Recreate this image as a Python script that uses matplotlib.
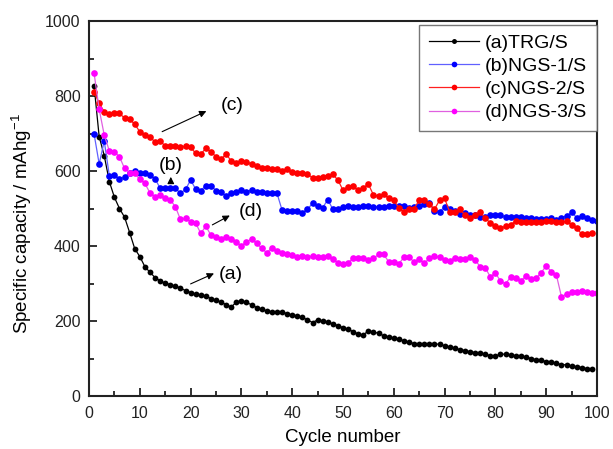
import matplotlib
matplotlib.use("Agg")
import matplotlib.pyplot as plt
from matplotlib.ticker import MultipleLocator

plt.rcParams['font.family'] = ['Liberation Sans', 'DejaVu Sans']
plt.rcParams['mathtext.fontset'] = 'custom'
plt.rcParams['mathtext.rm'] = 'Liberation Sans'
plt.rcParams['mathtext.it'] = 'Liberation Sans:italic'
plt.rcParams['mathtext.bf'] = 'Liberation Sans:bold'

labels = ["(a)TRG/S", "(b)NGS-1/S", "(c)NGS-2/S", "(d)NGS-3/S"]

trg = [827, 692, 641, 572, 530, 500, 477, 436, 393, 372, 345, 330, 316, 307, 301, 297, 293, 288, 281, 276,
       272, 269, 267, 260, 256, 250, 244, 237, 251, 254, 250, 243, 236, 231, 227, 225, 225, 223, 220, 216, 214,
       210, 203, 196, 203, 200, 198, 192, 188, 182, 178, 172, 165, 163, 174, 171, 167, 161, 157, 154, 152,
       147, 143, 140, 138, 139, 140, 139, 138, 134, 130, 127, 124, 121, 118, 116, 114, 111, 108, 107,
       111, 112, 109, 108, 107, 104, 100, 97, 95, 92, 90, 87, 84, 83, 80, 78, 76, 73, 71]

ngs1 = [699, 619, 680, 588, 589, 580, 583, 596, 600, 596, 594, 589, 580, 554, 554, 554, 554, 541, 551, 576, 552,
        548, 561, 561, 548, 545, 533, 541, 543, 549, 545, 549, 545, 545, 542, 542, 541, 496, 494, 494, 494,
        489, 498, 514, 507, 502, 524, 498, 500, 505, 506, 505, 505, 506, 508, 505, 505, 505, 506, 506, 507,
        506, 501, 505, 508, 513, 515, 493, 492, 504, 498, 494, 485, 487, 483, 483, 478, 478, 482, 482, 482,
        478, 478, 478, 477, 476, 475, 472, 472, 472, 475, 470, 476, 480, 490, 476, 480, 475, 470, 468]

ngs2 = [810, 781, 758, 752, 754, 754, 741, 738, 725, 705, 696, 692, 677, 680, 667, 667, 667, 663, 667, 664, 647,
        645, 661, 652, 638, 632, 645, 627, 622, 627, 625, 618, 614, 609, 607, 605, 605, 601, 605, 598, 596,
        594, 592, 582, 581, 585, 587, 591, 576, 549, 558, 560, 549, 556, 565, 536, 534, 538, 527, 522, 502,
        490, 500, 500, 522, 522, 512, 498, 522, 527, 491, 491, 498, 483, 476, 483, 491, 474, 462, 454, 447,
        453, 457, 467, 465, 465, 465, 463, 465, 467, 467, 465, 463, 467, 456, 447, 432, 432, 434]

ngs3 = [861, 765, 696, 654, 652, 638, 607, 596, 594, 578, 567, 542, 532, 536, 527, 523, 505, 471, 474, 465, 461,
        434, 453, 429, 425, 420, 423, 420, 412, 400, 412, 418, 407, 394, 382, 396, 388, 382, 379, 376, 371,
        373, 372, 373, 370, 372, 373, 365, 356, 352, 356, 367, 367, 369, 363, 367, 378, 378, 358, 357, 353,
        370, 370, 358, 365, 354, 367, 373, 370, 363, 360, 369, 365, 365, 370, 363, 345, 342, 318, 328, 307,
        299, 318, 314, 307, 320, 312, 314, 329, 347, 332, 323, 265, 272, 278, 278, 280, 278, 276, 274]

series = [trg, ngs1, ngs2, ngs3]
marker_colors = ["#000000", "#0000ff", "#ff0000", "#ff00ff"]
line_colors = ["#000000", "#6060ff", "#ff2020", "#e060e0"]
msizes = [4.2, 4.8, 4.8, 4.8]

fig = plt.figure(figsize=(6.13, 4.49), dpi=100)
ax = fig.add_axes([0.1452, 0.118, 0.8287, 0.835])

for ys, lab, mc, lc, ms in zip(series, labels, marker_colors, line_colors, msizes):
    xs = list(range(1, len(ys) + 1))
    ax.plot(xs, ys, '-', color=lc, lw=0.9, marker='o', ms=ms,
            markerfacecolor=mc, markeredgecolor=mc, markeredgewidth=0, label=lab)

ax.set_xlim(0, 100)
ax.set_ylim(0, 1000)
ax.xaxis.set_major_locator(MultipleLocator(10))
ax.xaxis.set_minor_locator(MultipleLocator(5))
ax.yaxis.set_major_locator(MultipleLocator(200))
ax.yaxis.set_minor_locator(MultipleLocator(100))
ax.tick_params(which='both', direction='in', top=False, right=False, labelsize=11.5, width=1.3, colors='#222222')
ax.tick_params(which='major', length=6)
ax.tick_params(which='minor', length=3.5)
ax.tick_params(axis='x', which='major', pad=7)
ax.tick_params(axis='y', which='major', pad=6)
for sp in ax.spines.values():
    sp.set_linewidth(1.5)
    sp.set_color('#222222')

ax.set_xlabel("Cycle number", fontsize=13.5)
ax.xaxis.set_label_coords(0.5, -0.088)
ax.set_ylabel("Specific capacity / mAhg$^{-1}$", fontsize=13.5)
ax.yaxis.set_label_coords(-0.108, 0.459)

ann = dict(arrowstyle='-|>', color='black', lw=0.8, mutation_scale=10)
ax.annotate("", xy=(23.6, 763), xytext=(13.9, 702), arrowprops=ann)
ax.text(28.2, 776, "(c)", fontsize=14, ha='center', va='center')
ax.annotate("", xy=(16.1, 592), xytext=(16.1, 560), arrowprops=ann)
ax.text(16.0, 616, "(b)", fontsize=14, ha='center', va='center')
ax.annotate("", xy=(28.2, 485), xytext=(23.8, 453), arrowprops=ann)
ax.text(31.9, 491, "(d)", fontsize=14, ha='center', va='center')
ax.annotate("", xy=(25.1, 330), xytext=(19.5, 296), arrowprops=ann)
ax.text(27.9, 323, "(a)", fontsize=14, ha='center', va='center')

leg = ax.legend(loc='upper right', bbox_to_anchor=(1.0, 0.99), fontsize=14, frameon=True,
                fancybox=False, edgecolor='#555555', handlelength=2.6, handletextpad=0.3,
                labelspacing=0.28, borderaxespad=0, borderpad=0.5, markerscale=0.85)
leg.get_frame().set_linewidth(1.0)

fig.savefig("out.png", dpi=100)
